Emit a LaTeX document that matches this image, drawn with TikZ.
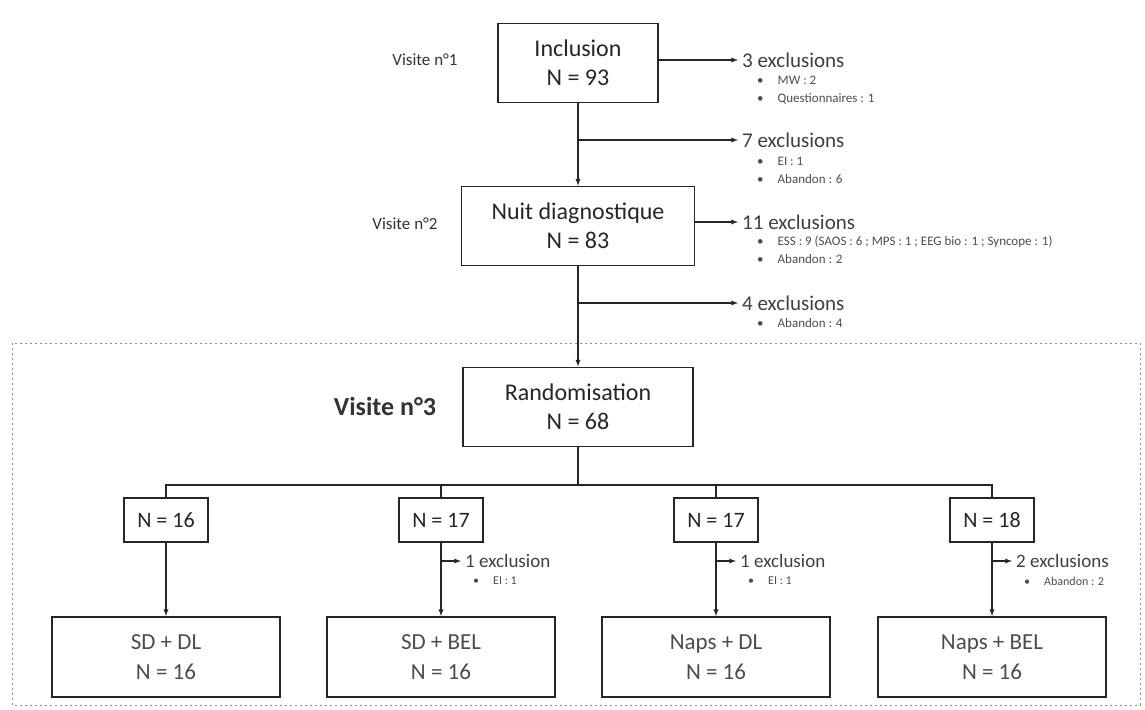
\documentclass[tikz,border=0pt]{standalone}
\usepackage{fontspec}
\setmainfont{Carlito}
\usepackage{tikz}
\usetikzlibrary{arrows,shapes}
\tikzstyle{etape}=[draw,line width=1.8pt,black!85,text=black!85,align=center,font=\fontsize{24}{29}\selectfont,minimum height=79pt]
\tikzstyle{groupe}=[draw,line width=1.8pt,black!85,text=black!85,font=\fontsize{22}{26}\selectfont,minimum width=84pt,minimum height=44pt]
\tikzstyle{bras}=[draw,line width=1.8pt,black!85,text=black!70,align=center,font=\fontsize{23}{30}\selectfont,minimum width=228pt,minimum height=80pt]
\tikzstyle{visite}=[text=black!80,font=\fontsize{17}{20}\selectfont]
\tikzstyle{excl}=[anchor=west,inner sep=4pt,text=black!75,font=\fontsize{21}{24}\selectfont]
\tikzstyle{motif}=[anchor=north west,inner sep=0pt,align=left,text=black!70,font=\fontsize{13}{18}\selectfont]
\tikzstyle{edge} = [draw,line width=1.3pt,black!85,-]
\tikzstyle{fleche} = [draw,line width=1.3pt,black!85,-latex]
\newcommand{\puce}{\textbullet\hspace{14pt}}

\begin{document}
\begin{tikzpicture}[x=1pt,y=-1pt]
    \useasboundingbox (0,0) rectangle (1145,709);
    % Cadre de la visite n°3
    \draw[black!45,thick,dash pattern=on 2pt off 3pt] (12,343) rectangle (1140,705);
    % Etapes principales
    \node[etape,minimum width=160pt] (incl) at (578,63) {Inclusion\\N = 93};
    \node[etape,minimum width=233pt] (nuit) at (578,226) {Nuit diagnostique\\N = 83};
    \node[etape,minimum width=230pt] (rando) at (578,407) {Randomisation\\N = 68};
    \node[visite] (v1) at (425,60) {Visite n°1};
    \node[visite] (v2) at (405,224) {Visite n°2};
    \node[visite,font=\fontsize{26}{30}\selectfont\bfseries] (v3) at (385,406) {Visite n°3};
    \path[fleche] (incl) -- (nuit);
    \path[fleche] (nuit) -- (rando);
    % Exclusions avant la randomisation
    \node[excl] (ex1) at (738,60) {3 exclusions};
    \node[excl] (ex2) at (738,140) {7 exclusions};
    \node[excl] (ex3) at (738,222) {11 exclusions};
    \node[excl] (ex4) at (738,303) {4 exclusions};
    \node[motif] (m1) at (757,76) {\puce MW : 2\\ \puce Questionnaires : 1};
    \node[motif] (m2) at (757,157) {\puce EI : 1\\ \puce Abandon : 6};
    \node[motif] (m3) at (757,236) {\puce ESS : 9 (SAOS : 6 ; MPS : 1 ; EEG bio : 1 ; Syncope : 1)\\ \puce Abandon : 2};
    \node[motif] (m4) at (757,318) {\puce Abandon : 4};
    \path[fleche] (incl.east |- ex1.west) -- (ex1.west);
    \path[fleche] (incl.south |- ex2.west) -- (ex2.west);
    \path[fleche] (nuit.east |- ex3.west) -- (ex3.west);
    \path[fleche] (nuit.south |- ex4.west) -- (ex4.west);
    % Groupes randomises
    \coordinate (split) at (578,485);
    \path[edge] (rando) -- (split);
    \foreach \x/\name/\n/\txt in {166/g1/16/{SD + DL}, 441/g2/17/{SD + BEL}, 716/g3/17/{Naps + DL}, 992/g4/18/{Naps + BEL}}
    {
        \node[groupe] (\name) at (\x,520) {N = \n};
        \node[bras] (b\name) at (\x,657) {\txt\\N = 16};
        \path[edge] (split) -| (\name);
        \path[fleche] (\name) -- (b\name);
    }
    % Exclusions apres la randomisation
    \foreach \x/\name/\txt/\motif in {441/g2/1 exclusion/EI : 1, 716/g3/1 exclusion/EI : 1, 992/g4/2 exclusions/Abandon : 2}
    {
        \node[excl,font=\fontsize{19}{22}\selectfont] (e\name) at (\x+20,561) {\txt};
        \node[motif,font=\fontsize{12}{15}\selectfont] (m\name) at (\x+32,577) {\puce \motif};
        \path[fleche] (\name.south |- e\name.west) -- (e\name.west);
    }
\end{tikzpicture}
\end{document}
